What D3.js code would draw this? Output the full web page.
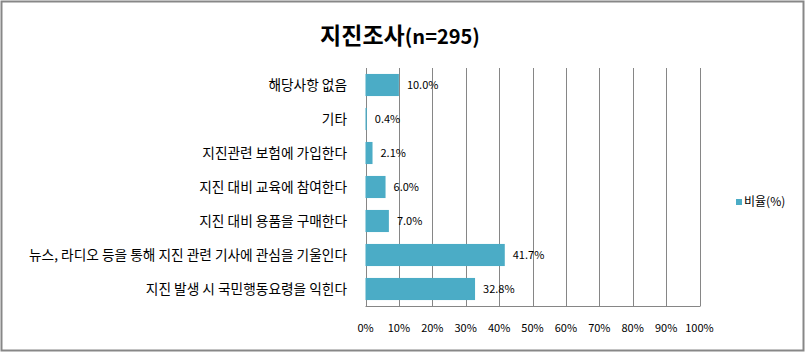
<!DOCTYPE html>
<html>
<head>
<meta charset="utf-8">
<script src="https://cdn.jsdelivr.net/npm/d3@7"></script>
<style>
  body { margin: 0; background: #fff; }
  svg { display: block; font-family: "Noto Sans CJK KR", "Noto Sans", sans-serif; }
</style>
</head>
<body>
<div id="chart"></div>
<script>
// chart values
const categories = [
  "해당사항 없음",
  "기타",
  "지진관련 보험에 가입한다",
  "지진 대비 교육에 참여한다",
  "지진 대비 용품을 구매한다",
  "뉴스, 라디오 등을 통해 지진 관련 기사에 관심을 기울인다",
  "지진 발생 시 국민행동요령을 익힌다"
];
const values = [10.0, 0.4, 2.1, 6.0, 7.0, 41.7, 32.8];
const xTicks = [0, 10, 20, 30, 40, 50, 60, 70, 80, 90, 100];
const seriesName = "비율(%)";
const titleMain = "지진조사";
const titleSub = "(n=295)";

const W = 806, H = 352;
const barColor = "#4bacc6";
const gridColor = "#868686";

const svg = d3.select("#chart").append("svg")
  .attr("width", W)
  .attr("height", H);

// outer frame
svg.append("rect")
  .attr("x", 1.5).attr("y", 1.5)
  .attr("width", 802).attr("height", 349)
  .attr("fill", "#fff")
  .attr("stroke", "#878787")
  .attr("stroke-width", 2);

// title
const title = svg.append("text")
  .attr("x", 400).attr("y", 44)
  .attr("text-anchor", "middle")
  .attr("font-weight", "bold")
  .attr("fill", "#000");
title.append("tspan").attr("font-size", 23).text(titleMain);
title.append("tspan").attr("font-size", 20).text(titleSub);

const x = d3.scaleLinear().domain([0, 100]).range([365.5, 699.5]);
const y = d3.scaleBand().domain(categories).range([68, 306]).paddingInner(0.35).paddingOuter(0.175);

const g = svg.append("g");

// vertical gridlines
g.selectAll(".grid")
  .data(xTicks)
  .enter()
  .append("line")
  .attr("class", "grid")
  .attr("x1", d => Math.round(x(d)) + 0.5)
  .attr("x2", d => Math.round(x(d)) + 0.5)
  .attr("y1", 68)
  .attr("y2", 306)
  .style("stroke", gridColor)
  .style("stroke-width", 1);

// bottom line
g.append("line")
  .attr("x1", x(0)).attr("x2", Math.round(x(100)) + 0.5)
  .attr("y1", 306.5).attr("y2", 306.5)
  .style("stroke", gridColor);

// bars
g.selectAll(".bar")
  .data(values)
  .enter()
  .append("rect")
  .attr("class", "bar")
  .attr("x", x(0))
  .attr("y", (d, i) => y(categories[i]))
  .attr("width", d => x(d) - x(0))
  .attr("height", y.bandwidth())
  .style("fill", barColor);

// value labels
g.selectAll(".val")
  .data(values)
  .enter()
  .append("text")
  .attr("class", "val")
  .attr("x", d => x(d) + 8)
  .attr("y", (d, i) => y(categories[i]) + y.bandwidth() / 2)
  .attr("dy", "0.35em")
  .attr("font-size", 11)
  .attr("fill", "#000")
  .text(d => d.toFixed(1) + "%");

// category labels
g.selectAll(".cat")
  .data(categories)
  .enter()
  .append("text")
  .attr("class", "cat")
  .attr("x", 347)
  .attr("y", d => y(d) + y.bandwidth() / 2)
  .attr("dy", "0.35em")
  .attr("text-anchor", "end")
  .attr("font-size", 13.7)
  .attr("fill", "#000")
  .text(d => d);

// x tick labels
g.selectAll(".tick-lbl")
  .data(xTicks)
  .enter()
  .append("text")
  .attr("class", "tick-lbl")
  .attr("x", d => x(d))
  .attr("y", 328)
  .attr("dy", "0.35em")
  .attr("text-anchor", "middle")
  .attr("font-size", 11)
  .attr("fill", "#000")
  .text(d => d + "%");

// legend
const lg = svg.append("g").attr("transform", "translate(736,199)");
lg.append("rect")
  .attr("width", 6).attr("height", 6)
  .style("fill", barColor);
lg.append("text")
  .attr("x", 8).attr("y", 3)
  .attr("dy", "0.35em")
  .attr("font-size", 12)
  .attr("fill", "#000")
  .text(seriesName);
</script>
</body>
</html>
